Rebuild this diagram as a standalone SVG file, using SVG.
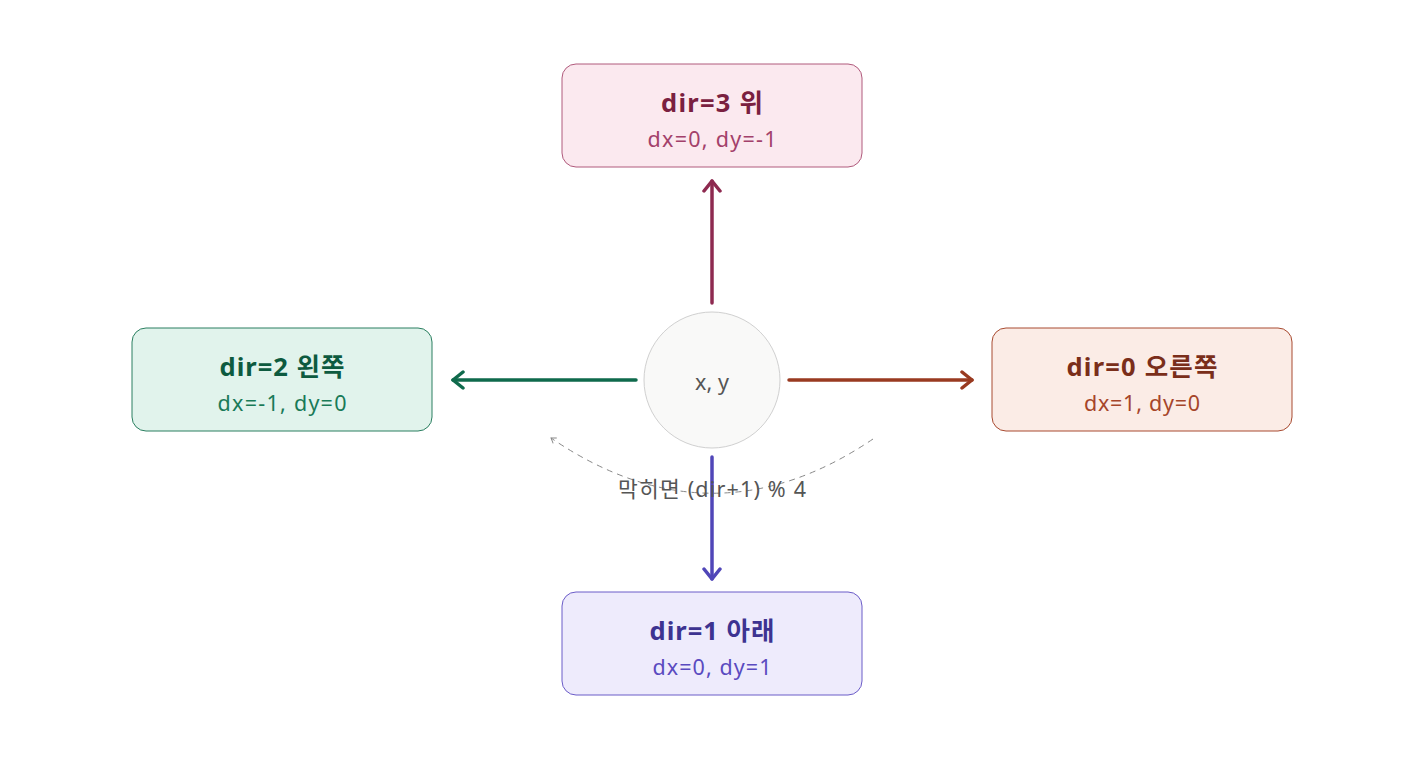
<svg xmlns="http://www.w3.org/2000/svg" width="1424" height="760" viewBox="0 0 1424 760">
<style>
.t{font-family:"Noto Sans","Noto Sans CJK KR",sans-serif;font-weight:700;font-size:25.5px;text-anchor:middle}
.s{font-family:"Noto Sans","Noto Sans CJK KR",sans-serif;font-size:21.5px;text-anchor:middle}
.ar{fill:none;stroke-width:3.5;stroke-linecap:round}
</style>
<defs>
<marker id="mU" viewBox="0 0 20 20" refX="18" refY="10" markerWidth="20" markerHeight="20" markerUnits="userSpaceOnUse" orient="auto"><path d="M8 2 L18 10 L8 18" fill="none" stroke="#8e2a50" stroke-width="3.5" stroke-linecap="round" stroke-linejoin="round"/></marker>
<marker id="mL" viewBox="0 0 20 20" refX="18" refY="10" markerWidth="20" markerHeight="20" markerUnits="userSpaceOnUse" orient="auto"><path d="M8 2 L18 10 L8 18" fill="none" stroke="#0f6a4c" stroke-width="3.5" stroke-linecap="round" stroke-linejoin="round"/></marker>
<marker id="mR" viewBox="0 0 20 20" refX="18" refY="10" markerWidth="20" markerHeight="20" markerUnits="userSpaceOnUse" orient="auto"><path d="M8 2 L18 10 L8 18" fill="none" stroke="#993a20" stroke-width="3.5" stroke-linecap="round" stroke-linejoin="round"/></marker>
<marker id="mD" viewBox="0 0 20 20" refX="18" refY="10" markerWidth="20" markerHeight="20" markerUnits="userSpaceOnUse" orient="auto"><path d="M8 2 L18 10 L8 18" fill="none" stroke="#5046b8" stroke-width="3.5" stroke-linecap="round" stroke-linejoin="round"/></marker>
<marker id="mG" viewBox="0 0 10 10" refX="9" refY="5" markerWidth="8" markerHeight="8" markerUnits="userSpaceOnUse" orient="auto"><path d="M3 1 L9 5 L3 9" fill="none" stroke="#888" stroke-width="1.2"/></marker>
</defs>
<rect width="1424" height="760" fill="#ffffff"/>
<g id="connectors">
<line class="ar" x1="712" y1="303" x2="712" y2="181" stroke="#8e2a50" marker-end="url(#mU)"/>
<line class="ar" x1="636" y1="380" x2="453" y2="380" stroke="#0f6a4c" marker-end="url(#mL)"/>
<line class="ar" x1="789" y1="380" x2="972" y2="380" stroke="#993a20" marker-end="url(#mR)"/>
<path d="M 873 439 Q 712 548 551 438" fill="none" stroke="#888" stroke-width="1" stroke-dasharray="6 5" marker-end="url(#mG)"/>
<line class="ar" x1="712" y1="457" x2="712" y2="579" stroke="#5046b8" marker-end="url(#mD)"/>
<text x="712" y="497" class="s" fill="#555" textLength="188" lengthAdjust="spacing">막히면 (dir+1) % 4</text>
</g>
<g id="center">
<circle cx="712" cy="380" r="68" fill="#f9f9f8" stroke="#d0d0d0" stroke-width="1"/>
<text x="712" y="390" class="s" fill="#555" textLength="34" lengthAdjust="spacing">x, y</text>
</g>
<g id="up">
<rect x="562" y="64" width="300" height="103" rx="14" fill="#fbe9ef" stroke="#b05a7c" stroke-width="1"/>
<text x="712" y="112" class="t" fill="#7a2040" textLength="102" lengthAdjust="spacing">dir=3 위</text>
<text x="712" y="147" class="s" fill="#a3406a" textLength="129" lengthAdjust="spacing">dx=0, dy=-1</text>
</g>
<g id="left">
<rect x="132" y="328" width="300" height="103" rx="14" fill="#e1f3ec" stroke="#2a7f60" stroke-width="1"/>
<text x="282" y="376" class="t" fill="#0d5a3f" textLength="125" lengthAdjust="spacing">dir=2 왼쪽</text>
<text x="282" y="411" class="s" fill="#197a58" textLength="129" lengthAdjust="spacing">dx=-1, dy=0</text>
</g>
<g id="right">
<rect x="992" y="328" width="300" height="103" rx="14" fill="#fbece6" stroke="#a84a30" stroke-width="1"/>
<text x="1142" y="376" class="t" fill="#7a2e1a" textLength="151" lengthAdjust="spacing">dir=0 오른쪽</text>
<text x="1142" y="411" class="s" fill="#a6452a" textLength="116" lengthAdjust="spacing">dx=1, dy=0</text>
</g>
<g id="down">
<rect x="562" y="592" width="300" height="103" rx="14" fill="#eeebfc" stroke="#6b5cc8" stroke-width="1"/>
<text x="712" y="640" class="t" fill="#3d3391" textLength="125" lengthAdjust="spacing">dir=1 아래</text>
<text x="712" y="675" class="s" fill="#5a4ac0" textLength="119" lengthAdjust="spacing">dx=0, dy=1</text>
</g>
</svg>
